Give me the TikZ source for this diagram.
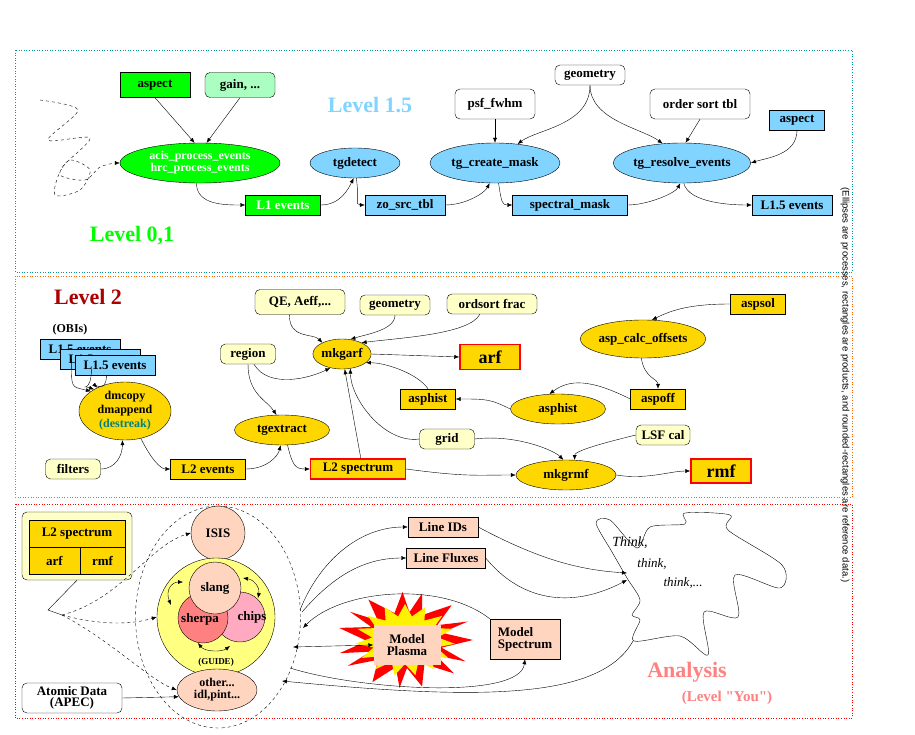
\documentclass[tikz,border=0pt]{standalone}
\usepackage{fontspec}
\setmainfont{Liberation Serif}
\newfontfamily\legendfont{Liberation Sans}
\usetikzlibrary{shapes.geometric,positioning,arrows.meta,calc}
\tikzset{>={Latex[length=5pt,width=4pt]}}
\definecolor{lvgreen}{HTML}{00FF00}
\definecolor{lightgreen}{HTML}{AAFFC0}
\definecolor{lvblue}{HTML}{80D4FF}
\definecolor{lvgold}{HTML}{FFD700}
\definecolor{refyellow}{HTML}{FFFFC8}
\definecolor{peach}{HTML}{FFD5C0}
\definecolor{sherpared}{HTML}{FF8080}
\definecolor{chipspink}{HTML}{FFAAC0}
\definecolor{guideyellow}{HTML}{FFFF80}
\definecolor{darkred}{HTML}{AA0000}
\tikzset{
  proc/.style={ellipse,draw,inner sep=0pt,font=\fontsize{13}{14}\selectfont\bfseries},
  prod/.style={rectangle,draw,inner sep=1pt,font=\fontsize{13}{14}\selectfont\bfseries},
  ref/.style={rectangle,rounded corners=5pt,draw,fill=refyellow,inner sep=1pt,font=\fontsize{13}{14}\selectfont\bfseries},
  final/.style={prod,draw=red,line width=1.5pt,fill=lvgold,font=\fontsize{18}{19}\selectfont\bfseries},
  tool/.style={circle,draw,fill=peach,inner sep=0pt,font=\fontsize{13}{14}\selectfont\bfseries},
  panel/.style={dotted,line width=0.6pt},
  level/.style={font=\fontsize{22}{24}\selectfont\bfseries}
}
\begin{document}
\begin{tikzpicture}[x=1pt,y=-1pt]
  \useasboundingbox (0,0) rectangle (915,735);

  % panels
  \draw[panel,draw=teal!80!cyan] (15,50) rectangle (852,272);
  \draw[panel,draw=orange!80!red] (15,276) rectangle (852,497);
  \draw[panel,draw=red] (15,504) rectangle (852,718);
  \node[rotate=-90,font=\legendfont\fontsize{9.5}{10}\selectfont] (legend) at (845,385)
    {(Ellipses are processes, rectangles are products, and rounded-rectangles are reference data.)};

  % level 0,1 and 1.5
  \node[level,text=lvblue] (l15title) at (370,105) {Level 1.5};
  \node[level,text=lvgreen] (l01title) at (132,236) {Level 0,1};
  \node[prod,fill=lvgreen,minimum width=70,minimum height=25] (aspA) at (155,85) {aspect};
  \node[ref,fill=lightgreen,minimum width=70,minimum height=25] (gain) at (240,85) {gain, ...};
  \node[proc,fill=lvgreen,text=white,minimum width=160,minimum height=40,align=center,
        font=\fontsize{12}{12}\selectfont\bfseries] (acis) at (200,163) {acis\_process\_events\\hrc\_process\_events};
  \node[prod,fill=lvgreen,text=white,minimum width=75,minimum height=20] (l1ev) at (283,205) {L1 events};
  \node[proc,fill=lvblue,minimum width=90,minimum height=30] (tgdet) at (355,163) {tgdetect};
  \node[prod,fill=lvblue,minimum width=80,minimum height=20] (zosrc) at (405,205) {zo\_src\_tbl};
  \node[proc,fill=lvblue,minimum width=130,minimum height=40] (tgmask) at (495,163) {tg\_create\_mask};
  \node[ref,fill=white,minimum width=80,minimum height=30] (psf) at (495,104) {psf\_fwhm};
  \node[ref,fill=white,minimum width=70,minimum height=20] (geomA) at (590,75) {geometry};
  \node[prod,fill=lvblue,minimum width=115,minimum height=20] (specmask) at (570,205) {spectral\_mask};
  \node[proc,fill=lvblue,minimum width=135,minimum height=40] (tgres) at (682,163) {tg\_resolve\_events};
  \node[ref,fill=white,minimum width=100,minimum height=30] (ordtbl) at (700,104) {order sort tbl};
  \node[prod,fill=lvblue,minimum width=55,minimum height=20] (aspB) at (797,120) {aspect};
  \node[prod,fill=lvblue,minimum width=80,minimum height=20] (l15ev) at (792,205) {L1.5 events};

  \draw[dashed,->] plot[smooth] coordinates {(40,100) (78,110) (48,140) (90,138) (62,168) (55,195)
      (80,190) (90,170) (70,160) (60,175) (85,180) (100,167) (115,163)} -- (acis.west);
  \draw[->] (aspA.south) -- (acis.105);
  \draw[->] (gain.south) -- (acis.72);
  \draw[->] (acis.260) .. controls +(0,22) and +(-20,0) .. (l1ev.west);
  \draw[->] (l1ev.east) .. controls +(20,0) and +(-5,10) .. (tgdet.265);
  \draw[->] (tgdet.275) .. controls +(3,20) and +(-10,0) .. (zosrc.west);
  \draw[->] (zosrc.east) .. controls +(20,0) and +(-5,10) .. (tgmask.255);
  \draw[->] (tgmask.280) .. controls +(3,20) and +(-10,0) .. (specmask.west);
  \draw[->] (specmask.east) .. controls +(20,0) and +(-5,10) .. (tgres.265);
  \draw[->] (tgres.275) .. controls +(5,20) and +(-20,0) .. (l15ev.west);
  \draw[->] (psf.south) -- (tgmask.north);
  \draw[->] (geomA.south) .. controls +(0,40) and +(20,-15) .. (tgmask.40);
  \draw[->] (geomA.south) .. controls +(0,35) and +(-20,-15) .. (tgres.135);
  \draw[->] (ordtbl.south) -- (tgres.80);
  \draw[->] (aspB.south) .. controls +(0,25) and +(15,-5) .. (tgres.east);

  % level 2
  \node[level,text=darkred] (l2title) at (88,297) {Level 2};
  \node[font=\fontsize{12}{13}\selectfont\bfseries] (obis) at (70,330) {(OBIs)};
  \node[prod,fill=lvblue,minimum width=80,minimum height=20] (obiA) at (80,349) {L1.5 events};
  \node[prod,fill=lvblue,minimum width=80,minimum height=20] (obiB) at (100,359) {L1.5 events};
  \node[prod,fill=lvblue,minimum width=80,minimum height=20] (obiC) at (115,365) {L1.5 events};
  \node[proc,fill=lvgold,minimum width=92,minimum height=58,align=center,
        font=\fontsize{12}{14}\selectfont\bfseries] (dmcopy) at (125,411)
    {dmcopy\\dmappend\\\textcolor{teal}{(destreak)}};
  \node[ref,minimum width=55,minimum height=20] (filters) at (73,469) {filters};
  \node[prod,fill=lvgold,minimum width=75,minimum height=20] (l2ev) at (208,469) {L2 events};
  \node[ref,minimum width=55,minimum height=20] (region) at (248,354) {region};
  \node[proc,fill=lvgold,minimum width=95,minimum height=30] (tgext) at (282,430) {tgextract};
  \node[prod,draw=red,line width=1.2pt,fill=lvgold,minimum width=95,minimum height=20] (l2spec) at (358,469) {L2 spectrum};
  \node[ref,minimum width=90,minimum height=25] (qe) at (300,302) {QE, Aeff,...};
  \node[ref,minimum width=70,minimum height=20] (geomB) at (395,305) {geometry};
  \node[ref,minimum width=90,minimum height=20] (ordfrac) at (492,304) {ordsort frac};
  \node[proc,fill=lvgold,minimum width=50,minimum height=30] (mkgarf) at (342,354) {mkgarf};
  \node[final,minimum width=60,minimum height=25] (arf) at (490,357) {arf};
  \node[prod,fill=lvgold,minimum width=55,minimum height=20] (asphR) at (428,399) {asphist};
  \node[proc,fill=lvgold,minimum width=95,minimum height=30] (asphE) at (558,409) {asphist};
  \node[prod,fill=lvgold,minimum width=55,minimum height=20] (aspoff) at (658,399) {aspoff};
  \node[proc,fill=lvgold,minimum width=125,minimum height=38] (aspcalc) at (643,339) {asp\_calc\_offsets};
  \node[prod,fill=lvgold,minimum width=55,minimum height=20] (aspsol) at (758,304) {aspsol};
  \node[ref,minimum width=55,minimum height=20] (grid) at (447,439) {grid};
  \node[ref,minimum width=54,minimum height=20] (lsf) at (663,435) {LSF cal};
  \node[proc,fill=lvgold,minimum width=100,minimum height=30] (mkgrmf) at (566,475) {mkgrmf};
  \node[final,minimum width=60,minimum height=24] (rmf) at (721,471) {rmf};

  \draw[->] (obiA.230) .. controls +(0,30) and +(-20,-5) .. (dmcopy.150);
  \draw[->] (obiB.230) .. controls +(0,25) and +(-15,-5) .. (dmcopy.145);
  \draw[->] (obiC.230) .. controls +(0,20) and +(-5,-5) .. (dmcopy.140);
  \draw[->] (filters.east) .. controls +(15,0) and +(0,15) .. (dmcopy.265);
  \draw[->] (dmcopy.300) .. controls +(10,20) and +(-10,0) .. (l2ev.west);
  \draw[->] (l2ev.east) .. controls +(20,0) and +(-3,12) .. (tgext.265);
  \draw[->] (region.south) .. controls +(0,30) and +(-10,-15) .. (tgext.110);
  \draw[->] (region.300) .. controls +(15,25) and +(-20,10) .. (mkgarf.230);
  \draw[->] (tgext.290) .. controls +(5,20) and +(-15,0) .. (l2spec.west);
  \draw[->] (l2spec.75) -- (mkgarf.280);
  \draw[->] (l2spec.east) .. controls +(60,8) and +(-40,0) .. (mkgrmf.west);
  \draw[->] (qe.230) .. controls +(0,25) and +(-10,-10) .. (mkgarf.150);
  \draw[->] (geomB.south) .. controls +(0,15) and +(15,-5) .. (mkgarf.60);
  \draw[->] (ordfrac.220) .. controls +(-10,20) and +(40,-5) .. (mkgarf.30);
  \draw[->] (mkgarf.east) -- (arf.west);
  \draw[->] (asphR.north) .. controls +(-10,-15) and +(20,0) .. (mkgarf.340);
  \draw[->] (asphE.west) .. controls +(-20,-10) and +(30,0) .. (asphR.east);
  \draw[->] (aspoff.west) .. controls +(-40,-20) and +(20,-15) .. (asphE.120);
  \draw[->] (aspcalc.265) .. controls +(3,20) and +(0,-10) .. (aspoff.north);
  \draw[->] (aspsol.west) .. controls +(-40,0) and +(20,-10) .. (aspcalc.65);
  \draw[->] (grid.west) .. controls +(-35,5) and +(0,30) .. (mkgarf.300);
  \draw[->] (grid.east) .. controls +(40,-5) and +(-10,-10) .. (mkgrmf.100);
  \draw[->] (lsf.west) .. controls +(-20,5) and +(0,-10) .. (mkgrmf.60);
  \draw[->] (mkgrmf.east) .. controls +(30,5) and +(-20,0) .. (rmf.west);

  % analysis
  \node[rectangle,rounded corners=5pt,draw,fill=refyellow,minimum width=110,minimum height=68] (spbox) at (77,546) {};
  \node[prod,fill=lvgold,minimum width=96,minimum height=27] (tblspec) at (77,533.5) {L2 spectrum};
  \node[prod,fill=lvgold,minimum width=51,minimum height=27] (tblarf) at (54.5,560.5) {arf};
  \node[prod,fill=lvgold,minimum width=45,minimum height=27] (tblrmf) at (102.5,560.5) {rmf};
  \node[ref,fill=white,minimum width=100,minimum height=30,align=center] (apec) at (72,698) {Atomic Data\\[-3pt](APEC)};
  \node[ellipse,draw,dashed,minimum width=165,minimum height=222] (env) at (218,617) {};
  \node[tool,minimum size=54] (isis) at (218,533) {ISIS};
  \node[circle,draw,fill=guideyellow,minimum size=118] (guide) at (216,617) {};
  \node[font=\fontsize{9}{10}\selectfont\bfseries] (guidelbl) at (216,662) {(GUIDE)};
  \node[tool,fill=chipspink,minimum size=50] (chips) at (240,617) {};
  \node[tool,fill=sherpared,minimum size=50] (sherpa) at (203,618) {};
  \node[tool,minimum size=52] (slang) at (215,588) {slang};
  \node[font=\fontsize{13}{14}\selectfont\bfseries] at (200,619) {sherpa};
  \node[font=\fontsize{13}{14}\selectfont\bfseries] at (252,617) {chips};
  \node[ellipse,draw,fill=peach,minimum width=80,minimum height=42,align=center,inner sep=0pt,
        font=\fontsize{12}{12}\selectfont\bfseries] (other) at (217,690) {other...\\idl,pint...};
  \draw[<->] (171,605) .. controls (165,590) and (172,582) .. (183,582);
  \draw[<->] (243,578) .. controls (255,580) and (260,588) .. (258,598);
  \draw[<->] (198,643) .. controls (205,652) and (222,652) .. (230,646);

  \draw (spbox.south) -- (48,610) -- (62,615);
  \draw[dashed,->] (62,615) .. controls (120,600) and (150,545) .. (isis.west);
  \draw[dashed,->] (62,615) .. controls (100,625) and (130,625) .. (guide.west);
  \draw[dashed,->] (62,615) .. controls (110,640) and (150,680) .. (other.west);
  \draw[->] (apec.east) -- (other.190);

  \node[prod,fill=peach,minimum width=70,minimum height=20] (lineid) at (443,527) {Line IDs};
  \node[prod,fill=peach,minimum width=79,minimum height=20] (lineflux) at (446,558) {Line Fluxes};
  \fill[red] plot[samples at={0,...,29}] ({405+ifthenelse(mod(\x,2)==0,68,38)*cos(\x*12+4*sin(\x*70))},
      {640+ifthenelse(mod(\x,2)==0,48,28)*sin(\x*12+4*sin(\x*70))}) -- cycle;
  \fill[yellow] plot[samples at={0,...,29}] ({405+ifthenelse(mod(\x,2)==0,50,33)*cos(\x*12+6)},
      {640+ifthenelse(mod(\x,2)==0,36,24)*sin(\x*12+6)}) -- cycle;
  \node[prod,draw=none,fill=peach,minimum width=67,minimum height=40,align=center] (plasma) at (407,645) {Model\\[-2pt]Plasma};
  \node[prod,fill=peach,minimum width=70,minimum height=40,align=left] (modspec) at (525,639) {Model\\[-2pt]Spectrum};

  \draw[->] (300,610) .. controls (320,560) and (360,527) .. (lineid.west);
  \draw[->] (302,612) .. controls (330,580) and (360,558) .. (lineflux.west);
  \draw[->] (modspec.north west) .. controls (440,580) and (340,590) .. (303,628);
  \draw[<->] (293,647) -- (plasma.west);
  \draw[->] (290,668) .. controls (360,690) and (520,700) .. (modspec.south);
  \draw[->] (633,641) .. controls (600,700) and (480,700) .. (282,681);

  \draw plot[smooth cycle] coordinates {(596,523) (612,552) (627,578) (640,600) (632,615) (640,620)
      (634,641) (680,636) (708,655) (704,612) (738,617) (735,575) (780,588) (782,565) (728,530)
      (730,515) (685,513) (685,524) (650,527) (637,548) (610,520)};
  \draw[->] (lineid.east) .. controls (540,560) and (580,570) .. (627,573);
  \draw[->] (lineflux.east) .. controls (520,600) and (570,610) .. (627,580);
  \node[font=\itshape\fontsize{14}{15}\selectfont] (think1) at (630,543) {Think,};
  \node[font=\itshape\fontsize{13}{14}\selectfont] (think2) at (652,564) {think,};
  \node[font=\itshape\fontsize{13}{14}\selectfont] (think3) at (683,583) {think,...};
  \node[level,text=sherpared] (anatitle) at (687,672) {Analysis};
  \node[font=\fontsize{15}{16}\selectfont\bfseries,text=sherpared] (anasub) at (727,698) {(Level \textquotedbl You\textquotedbl)};
\end{tikzpicture}
\end{document}
